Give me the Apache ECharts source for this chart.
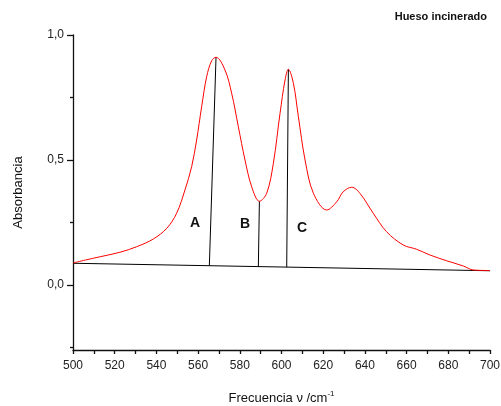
<!DOCTYPE html>
<html>
<head>
<meta charset="utf-8">
<script src="https://cdn.jsdelivr.net/npm/echarts@6/dist/echarts.min.js"></script>
<style>
  html, body { margin: 0; padding: 0; background: #fff; }
  #chart { width: 501px; height: 406px; }
</style>
</head>
<body>
<div id="chart"></div>
<script>
// espectro
var freq = [500, 506, 513, 522.5, 530.5, 538.5, 545, 549.7, 553.7, 556.9, 559.3, 561.7, 564.1, 566.5, 568.6,
  572.9, 576.1, 579.3, 582.5, 585.7, 589.4, 592.9, 596.1, 599.3, 601.7, 603.3, 605.7, 608.1, 611.3, 615.3,
  621.7, 626.5, 629.6, 633.7, 637.6, 644, 650.4, 658.4, 664.8, 671.2, 679.2, 687.2, 692, 700];
var absorb = [0.088, 0.1, 0.113, 0.131, 0.153, 0.184, 0.227, 0.287, 0.38, 0.473, 0.58, 0.713, 0.833, 0.897, 0.911,
  0.86, 0.767, 0.633, 0.5, 0.393, 0.335, 0.367, 0.487, 0.687, 0.82, 0.863, 0.807, 0.673, 0.5, 0.367,
  0.3, 0.333, 0.373, 0.391, 0.367, 0.287, 0.213, 0.16, 0.143, 0.12, 0.097, 0.076, 0.06, 0.058];

// linea base y alturas A, B, C
var baseLine = [[500, 0.087], [700, 0.057]];
var lineA = [[565.4, 0.077], [568.6, 0.911]];
var lineB = [[588.9, 0.0737], [589.4, 0.335]];
var lineC = [[602.5, 0.0716], [603.3, 0.863]];

var xTicks = [500, 520, 540, 560, 580, 600, 620, 640, 660, 680, 700];
var yLabels = [0, 0.5, 1.0];
var yMinor = [-0.25, 0.25, 0.75];

var myChart = echarts.init(document.getElementById('chart'));
var font = 'Liberation Sans, Arial, sans-serif';

function seg(data) {
  return {
    type: 'line',
    data: data,
    symbol: 'none',
    silent: true,
    lineStyle: { color: '#000', width: 1 }
  };
}

var option = {
  animation: false,
  textStyle: { fontFamily: font },
  graphic: [
    { type: 'text', right: 14, top: 11, style: { text: 'Hueso incinerado', font: 'bold 11px ' + font, fill: '#111' } },
    { type: 'text', left: 190, top: 216, style: { text: 'A', font: 'bold 14px ' + font, fill: '#111' } },
    { type: 'text', left: 240, top: 217, style: { text: 'B', font: 'bold 14px ' + font, fill: '#111' } },
    { type: 'text', left: 297, top: 221, style: { text: 'C', font: 'bold 14px ' + font, fill: '#111' } }
  ],
  grid: { left: 73, right: 11, top: 35, bottom: 56, containLabel: false, outerBoundsMode: 'none' },
  xAxis: {
    type: 'value',
    min: 500,
    max: 700,
    interval: 20,
    name: 'Frecuencia ν /cm{sup|-1}',
    nameLocation: 'middle',
    nameGap: 40,
    nameTextStyle: {
      fontSize: 13, color: '#111', fontFamily: font,
      rich: { sup: { fontSize: 8, verticalAlign: 'top', padding: [0, 0, 8, 0], color: '#111' } }
    },
    axisLine: { onZero: false, lineStyle: { color: '#111', width: 1.3 } },
    axisTick: { inside: false, length: 4, lineStyle: { color: '#111', width: 1.3 } },
    minorTick: { show: true, splitNumber: 2, length: 4, lineStyle: { color: '#111', width: 1.3 } },
    axisLabel: { color: '#222', fontSize: 12, margin: 10, customValues: xTicks },
    splitLine: { show: false }
  },
  yAxis: [{
    type: 'value',
    min: -0.26,
    max: 1.0,
    name: 'Absorbancia',
    nameLocation: 'middle',
    nameGap: 48,
    nameTextStyle: { fontSize: 13, color: '#111', fontFamily: font },
    axisLine: { show: true, onZero: false, lineStyle: { color: '#111', width: 1.3 } },
    axisTick: { show: true, length: 6, customValues: yLabels, lineStyle: { color: '#111', width: 1.3 } },
    axisLabel: {
      color: '#222', fontSize: 12, margin: 9, customValues: yLabels,
      formatter: function (v) { return v.toFixed(1).replace('.', ','); }
    },
    splitLine: { show: false }
  }, {
    type: 'value',
    position: 'left',
    min: -0.26,
    max: 1.0,
    axisLine: { show: false, onZero: false },
    axisTick: { show: true, length: 3, customValues: yMinor, lineStyle: { color: '#111', width: 1.3 } },
    axisLabel: { show: false },
    splitLine: { show: false }
  }],
  series: [
    seg(baseLine),
    seg(lineA),
    seg(lineB),
    seg(lineC),
    {
      type: 'line',
      data: freq.map(function (f, i) { return [f, absorb[i]]; }),
      smooth: 0.35,
      symbol: 'none',
      lineStyle: { color: '#ff0000', width: 1 }
    }
  ]
};

myChart.setOption(option);
</script>
</body>
</html>
